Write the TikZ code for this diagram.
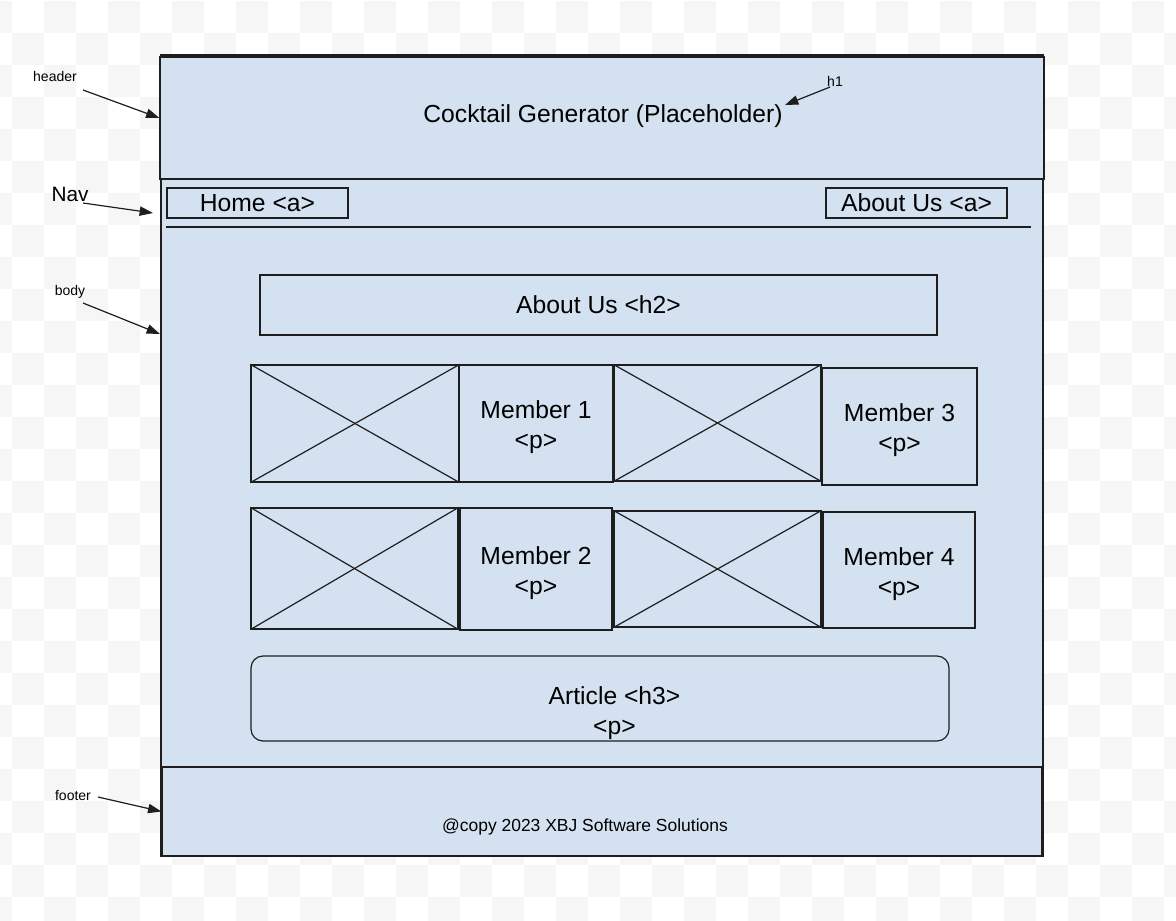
\documentclass[tikz,border=0pt]{standalone}
\usepackage{fontspec}
\setmainfont{Liberation Sans}
\usetikzlibrary{arrows.meta}
\definecolor{pagefill}{RGB}{212,225,240}
\definecolor{checker}{RGB}{246,246,246}
\definecolor{ink}{RGB}{30,30,30}

\begin{document}
\begin{tikzpicture}[x=0.75pt,y=-0.75pt,>={Triangle[length=10pt,width=7pt]},
                    line width=0.9pt]
  \tikzstyle{panel}=[rectangle,draw=ink,fill=pagefill,inner sep=0pt]
  \tikzstyle{big}=[font=\fontsize{18.5}{22.5}\selectfont,align=center,inner sep=0pt]
  \tikzstyle{twoline}=[big,yshift=-2.8pt]
  \tikzstyle{tag}=[font=\fontsize{10.5}{12}\selectfont,inner sep=0pt]
  \tikzstyle{pointer}=[->,draw=ink,fill=ink,line width=0.9pt]
  \tikzset{wh/.style 2 args={minimum width={#1*0.75pt},minimum height={#2*0.75pt}}}

  \useasboundingbox (0,0) rectangle (1176,920);

  % transparent backdrop
  \begin{scope}
    \clip (0,0) rectangle (1176,920);
    \foreach \i in {-1,...,36}
      \foreach \j in {0,...,28}{
        \pgfmathparse{int(mod(\i+\j+2,2))}
        \ifnum\pgfmathresult=1
          \fill[checker] (12+32*\i,1+32*\j) rectangle ++(32,32);
        \fi
      }
  \end{scope}

  % page frame
  \node[panel,wh={882}{801}] (body) at (602,455.5) {};
  \node[panel,wh={884}{122}] (hdr) at (602,118) {};
  \node[panel,wh={880}{89}] (foot) at (602,811.5) {};

  \node[big] (title) at (603,116.5) {Cocktail Generator (Placeholder)};

  % nav bar
  \node[panel,big,wh={181}{30}] (home) at (257.5,203) {Home <a>};
  \node[panel,big,wh={181}{30}] (aboutlink) at (916.5,203) {About Us <a>};
  \draw[ink,line width=1pt] (166,227) -- (1031,227);

  \node[panel,big,wh={677}{60}] (aboutus) at (598.5,305) {About Us <h2>};

  % members
  \node[panel,wh={208}{117}] (img1) at (355,423.5) {};
  \node[panel,wh={154}{117}] (mem1) at (536,423.5) {};
  \node[panel,wh={207}{116}] (img2) at (717.5,423) {};
  \node[panel,wh={155}{117}] (mem3) at (899.5,426.5) {};

  \node[panel,wh={207}{121}] (img3) at (354.5,568.5) {};
  \node[panel,wh={152}{122}] (mem2) at (536,569) {};
  \node[panel,wh={207}{116}] (img4) at (717.5,569) {};
  \node[panel,wh={152}{116}] (mem4) at (899,570) {};

  \node[twoline] (mem1txt) at (mem1) {Member 1\\<p>};
  \node[twoline] (mem3txt) at (mem3) {Member 3\\<p>};
  \node[twoline] (mem2txt) at (mem2) {Member 2\\<p>};
  \node[twoline] (mem4txt) at (mem4) {Member 4\\<p>};

  \foreach \pic in {img1,img2,img3,img4}{
    \draw[ink] (\pic.north west) -- (\pic.south east);
    \draw[ink] (\pic.south west) -- (\pic.north east);
  }

  \node[panel,rounded corners=9pt,wh={698}{85}] (article) at (600,698.5) {};
  \node[twoline] (arttext) at (614.5,709) {Article <h3>\\<p>};

  \node[font=\fontsize{13.1}{15}\selectfont,inner sep=0pt] (copy) at (585,827)
       {@copy 2023 XBJ Software Solutions};

  % annotations
  \node[tag] (hdrtag) at (55,76) {header};
  \node[font=\fontsize{15.6}{18}\selectfont,inner sep=0pt] (navtag) at (70,194) {Nav};
  \node[tag] (bodytag) at (70,292) {body};
  \node[tag] (foottag) at (73,795) {footer};
  \node[tag] (htag) at (835,81) {h1};

  \coordinate (hdrtail) at (83,90);
  \coordinate (navtail) at (83,203);
  \coordinate (navtip) at (153,213);
  \coordinate (bodytail) at (83,303);
  \coordinate (bodytip) at (160,334);
  \coordinate (foottail) at (98,797);
  \coordinate (htail) at (830,87);
  \coordinate (htip) at (785,105);

  \draw[pointer] (hdrtail) -- (hdr.west);
  \draw[pointer] (navtail) -- (navtip);
  \draw[pointer] (bodytail) -- (bodytip);
  \draw[pointer] (foottail) -- (foot.west);
  \draw[pointer] (htail) -- (htip);
\end{tikzpicture}
\end{document}
